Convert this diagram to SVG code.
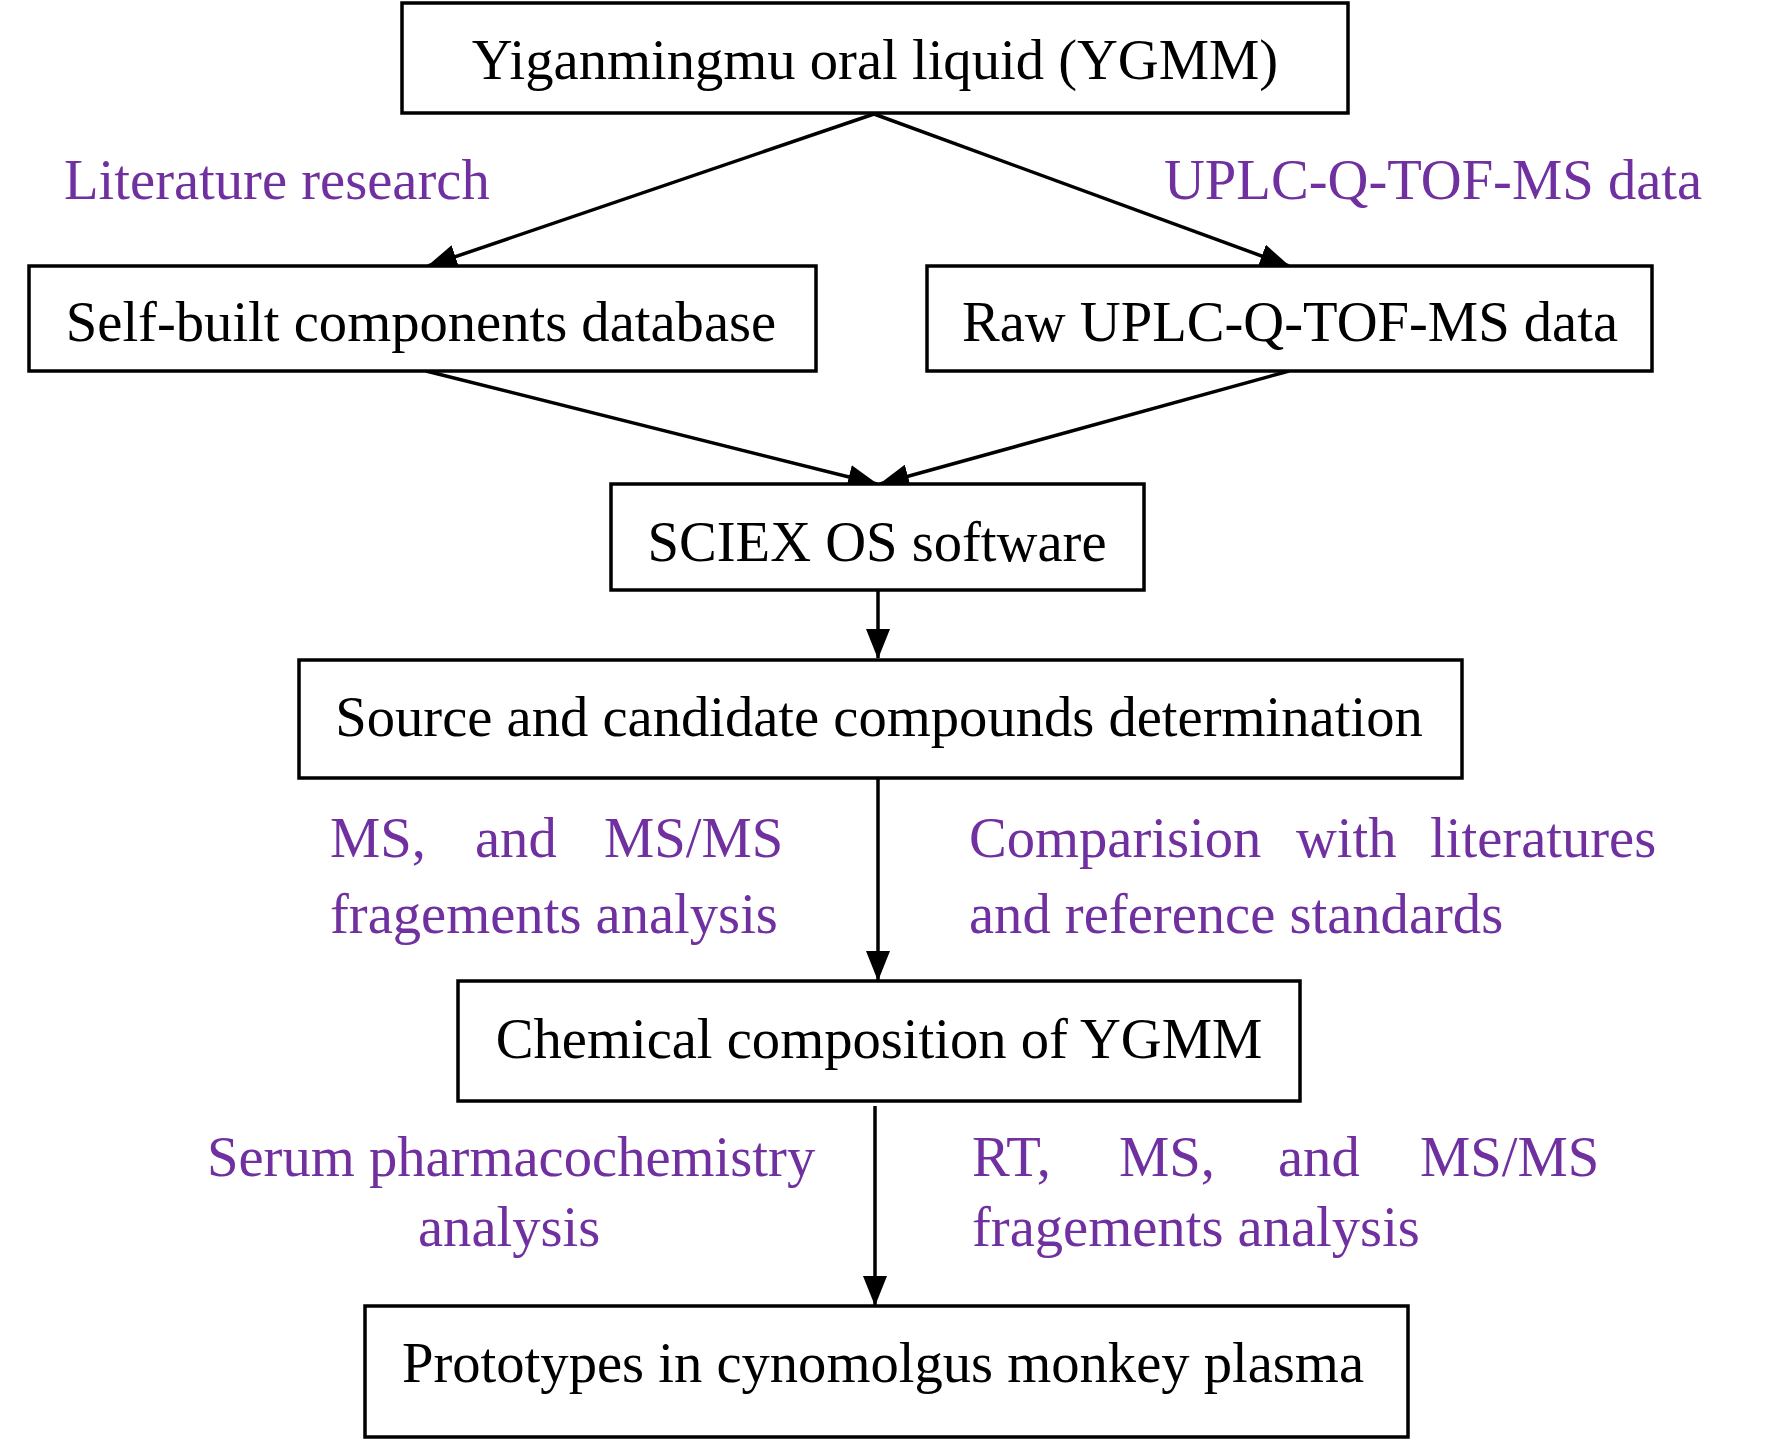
<svg xmlns="http://www.w3.org/2000/svg" width="1773" height="1441" viewBox="0 0 1773 1441">
<style>
.box{fill:#fff;stroke:#000;stroke-width:3.5}
.t{font-family:"Liberation Serif","Times New Roman",serif;font-size:56.6px;fill:#000}
.p{font-family:"Liberation Serif","Times New Roman",serif;font-size:56.6px;fill:#7030a0}
.c{stroke:#000;stroke-width:3.5;fill:none;marker-end:url(#ah)}
</style>
<defs>
<marker id="ah" markerUnits="userSpaceOnUse" markerWidth="30" markerHeight="24" refX="29" refY="12" orient="auto">
<path d="M0,0 L30,12 L0,24 z" fill="#000"/>
</marker>
</defs>
<rect width="1773" height="1441" fill="#fff"/>
<g id="connectors">
<line class="c" x1="874" y1="114" x2="428" y2="266"/>
<line class="c" x1="874" y1="114" x2="1289" y2="266"/>
<line class="c" x1="426" y1="371" x2="877" y2="484"/>
<line class="c" x1="1289" y1="371" x2="880" y2="484"/>
<line class="c" x1="878" y1="590" x2="878" y2="658"/>
<line class="c" x1="878" y1="778" x2="878" y2="980"/>
<line class="c" x1="875" y1="1106" x2="875" y2="1305"/>
</g>
<g id="n1"><rect class="box" x="402" y="3" width="946" height="110"/><text class="t" x="875" y="79" text-anchor="middle">Yiganmingmu oral liquid (YGMM)</text></g>
<g id="n2"><rect class="box" x="29" y="266" width="787" height="105"/><text class="t" x="421" y="341" text-anchor="middle">Self-built components database</text></g>
<g id="n3"><rect class="box" x="927" y="266" width="725" height="105"/><text class="t" x="1290" y="341" text-anchor="middle">Raw UPLC-Q-TOF-MS data</text></g>
<g id="n4"><rect class="box" x="611" y="484" width="533" height="106"/><text class="t" x="877" y="561" text-anchor="middle">SCIEX OS software</text></g>
<g id="n5"><rect class="box" x="299" y="660" width="1163" height="118"/><text class="t" x="879" y="736" text-anchor="middle">Source and candidate compounds determination</text></g>
<g id="n6"><rect class="box" x="458" y="981" width="842" height="120"/><text class="t" x="879" y="1058" text-anchor="middle">Chemical composition of YGMM</text></g>
<g id="n7"><rect class="box" x="365" y="1306" width="1043" height="131"/><text class="t" x="883" y="1382" text-anchor="middle">Prototypes in cynomolgus monkey plasma</text></g>
<g id="labels">
<text class="p" x="64" y="199">Literature research</text>
<text class="p" x="1164" y="199">UPLC-Q-TOF-MS data</text>
<text class="p" y="857"><tspan x="330">MS,</tspan><tspan x="475">and</tspan><tspan x="604">MS/MS</tspan></text>
<text class="p" x="330" y="933">fragements analysis</text>
<text class="p" y="857"><tspan x="969">Comparision</tspan><tspan x="1296">with</tspan><tspan x="1430">literatures</tspan></text>
<text class="p" x="969" y="933">and reference standards</text>
<text class="p" x="207" y="1176">Serum pharmacochemistry</text>
<text class="p" x="418" y="1246">analysis</text>
<text class="p" y="1176"><tspan x="972">RT,</tspan><tspan x="1119">MS,</tspan><tspan x="1278">and</tspan><tspan x="1420">MS/MS</tspan></text>
<text class="p" x="972" y="1246">fragements analysis</text>
</g>
</svg>
